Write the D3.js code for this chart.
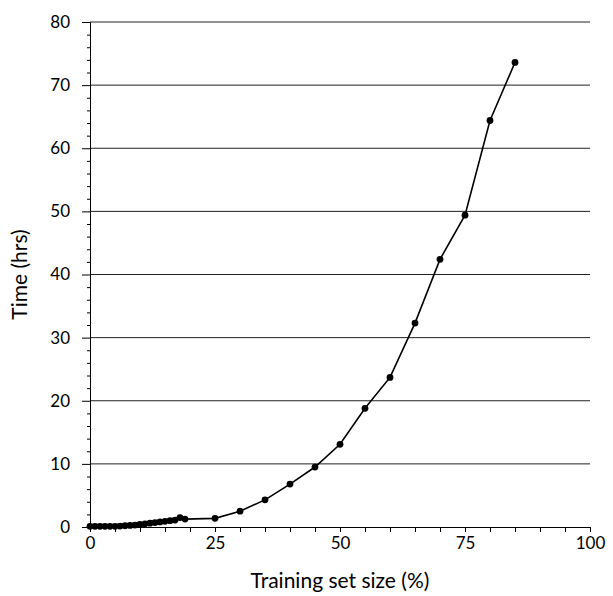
<!DOCTYPE html>
<html><head><meta charset="utf-8">
<script src="https://cdn.jsdelivr.net/npm/d3@7"></script>
<style>body{margin:0;background:#fff}</style>
</head><body>
<svg id="c" width="613" height="596"></svg>
<script>
const sizes = [0,1,2,3,4,5,6,7,8,9,10,11,12,13,14,15,16,17,18,19,25,30,35,40,45,50,55,60,65,70,75,80,85];
const times = [0.1,0.1,0.1,0.1,0.1,0.1,0.15,0.2,0.25,0.3,0.4,0.5,0.6,0.7,0.8,0.9,1.0,1.1,1.5,1.25,1.37,2.5,4.3,6.8,9.5,13.1,18.8,23.7,32.3,42.4,49.4,64.4,73.6];
const xTicks = [0,25,50,75,100];
const yTicks = [0,10,20,30,40,50,60,70,80];
const xLabel = "Training set size (%)";
const yLabel = "Time (hrs)";

const svg = d3.select("#c");
const m = {l:90, r:23, t:22, b:69};
const W = 613, H = 596;
const x = d3.scaleLinear().domain([0,100]).range([m.l, W-m.r]);
const y = d3.scaleLinear().domain([0,80]).range([H-m.b, m.t]);
const font = "Lato, 'DejaVu Sans', sans-serif";

// gridlines
svg.append("g").selectAll("line").data(yTicks.filter(d=>d>0)).join("line")
  .attr("x1", x(0)).attr("x2", x(100))
  .attr("y1", d=>y(d)).attr("y2", d=>y(d))
  .attr("stroke","#222").attr("stroke-width",1);

// x axis
const xa = svg.append("g").attr("transform",`translate(0,${y(0)})`)
  .call(d3.axisBottom(x).tickValues(d3.range(0,101,5)).tickSize(5).tickFormat(d=>xTicks.includes(d)?d:""));
xa.select(".domain").attr("stroke","#000");
xa.selectAll("text").attr("font-family",font).attr("font-size",17).attr("fill","#000").attr("dy","0.85em");

// y axis
const ya = svg.append("g").attr("transform",`translate(${x(0)},0)`)
  .call(d3.axisLeft(y).tickValues(d3.range(0,81,2)).tickSize(3).tickFormat(d=>yTicks.includes(d)?d:""));
ya.selectAll(".tick").filter(d=>yTicks.includes(d)).select("line").attr("x2",-8);
ya.select(".domain").attr("stroke","#000");
ya.selectAll("text").attr("font-family",font).attr("font-size",17).attr("fill","#000").attr("x",-20);

// line
const pts = sizes.map((s,i)=>[s,times[i]]);
svg.append("path").datum(pts)
  .attr("d", d3.line().x(d=>x(d[0])).y(d=>y(d[1])))
  .attr("fill","none").attr("stroke","#000").attr("stroke-width",1.6);
svg.append("g").selectAll("circle").data(pts).join("circle")
  .attr("cx",d=>x(d[0])).attr("cy",d=>y(d[1])).attr("r",3.4).attr("fill","#000");

// labels
svg.append("text").attr("x",(x(0)+x(100))/2).attr("y",588)
  .attr("text-anchor","middle").attr("font-family",font).attr("font-size",21).text(xLabel);
svg.append("text").attr("transform",`translate(27,${(y(0)+y(80))/2}) rotate(-90)`)
  .attr("text-anchor","middle").attr("font-family",font).attr("font-size",21).text(yLabel);
</script>
</body></html>
